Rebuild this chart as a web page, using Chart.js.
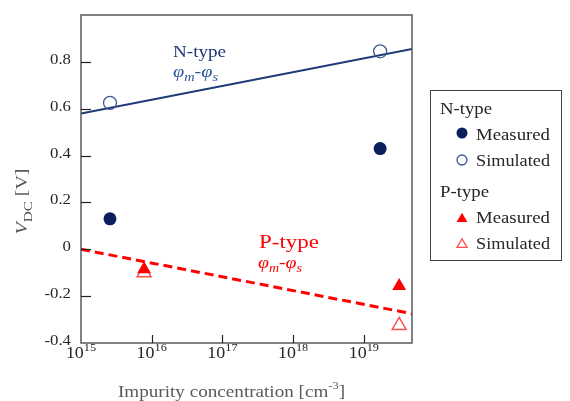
<!DOCTYPE html>
<html><head><meta charset="utf-8">
<script src="https://cdn.jsdelivr.net/npm/chart.js@4/dist/chart.umd.min.js"></script>
<style>html,body{margin:0;padding:0;background:#fff}#wrap{width:570px;height:401px;position:relative}</style>
</head><body><div id="wrap"><canvas id="c" width="570" height="401"></canvas></div>
<script>
// ---- data ----
const nMeasuredX = [2.57e15, 1.7e19];
const nMeasuredY = [0.13, 0.43];
const nSimulatedX = [2.57e15, 1.7e19];
const nSimulatedY = [0.625, 0.845];
const pMeasuredX = [7.8e15, 3.16e19];
const pMeasuredY = [-0.085, -0.157];
const pSimulatedX = [7.8e15, 3.16e19];
const pSimulatedY = [-0.1, -0.325];
const nLineX = [1e15, 4.8e19];
const nLineY = [0.58, 0.855];
const pLineX = [1e15, 4.8e19];
const pLineY = [0.0, -0.275];
const xTickExponents = [15, 16, 17, 18, 19];
const yTickValues = [-0.4, -0.2, 0, 0.2, 0.4, 0.6, 0.8];
const yTickLabels = ['-0.4', '-0.2', '0', '0.2', '0.4', '0.6', '0.8'];

const SERIF = "'Liberation Serif','Times New Roman',serif";
const NAVY = '#0a1f5c';
const NAVY_LINE = '#1f3a78';
const OPEN_BLUE = '#3f5a8f';
const RED = '#ff0000';
const OPEN_RED = '#ff4d4d';
const SX = 1.12; // horizontal text stretch

const pts = (xs, ys) => xs.map((x, i) => ({x, y: ys[i]}));

// draw rich text: parts = [[text, font, dy]]; anchor x by align; optional target width
function rich(ctx, parts, x, y, align, target) {
  let w = 0;
  parts.forEach(p => { ctx.font = p[1] + 'px ' + SERIF; w += ctx.measureText(p[0]).width; });
  const sx = target ? target / w : SX;
  const W = w * sx;
  let x0 = align === 'center' ? x - W / 2 : align === 'right' ? x - W : x;
  ctx.save();
  ctx.translate(x0, y); ctx.scale(sx, 1);
  ctx.textAlign = 'left'; ctx.textBaseline = 'alphabetic';
  let cx = 0;
  parts.forEach(p => {
    ctx.font = p[1] + 'px ' + SERIF;
    ctx.fillText(p[0], cx, p[2] || 0);
    cx += ctx.measureText(p[0]).width;
  });
  ctx.restore();
}

const overlay = {
  id: 'overlay',
  afterDraw(chart) {
    const ctx = chart.ctx, a = chart.chartArea;
    const xs = chart.scales.x, ys = chart.scales.y;
    ctx.save();
    // frame
    ctx.strokeStyle = '#5a5a5a'; ctx.lineWidth = 1.5;
    ctx.strokeRect(a.left, a.top, a.right - a.left, a.bottom - a.top);
    // inward ticks
    ctx.strokeStyle = '#222'; ctx.lineWidth = 1.2;
    yTickValues.forEach(v => {
      if (v === ys.min) return;
      const y = Math.round(ys.getPixelForValue(v)) + 0.5;
      ctx.beginPath(); ctx.moveTo(a.left, y); ctx.lineTo(a.left + 10, y); ctx.stroke();
    });
    xTickExponents.forEach(e => {
      const v = Math.pow(10, e);
      if (v <= xs.min) return;
      const x = Math.round(xs.getPixelForValue(v)) + 0.5;
      ctx.beginPath(); ctx.moveTo(x, a.bottom); ctx.lineTo(x, a.bottom - 8); ctx.stroke();
    });
    // y tick labels
    ctx.fillStyle = '#262626';
    yTickValues.forEach((v, i) => {
      const y = ys.getPixelForValue(v);
      rich(ctx, [[yTickLabels[i], '15', 0]], a.left - 10, y + 2, 'right');
    });
    // x tick labels 10^n
    xTickExponents.forEach(e => {
      const x = xs.getPixelForValue(Math.pow(10, e));
      rich(ctx, [['10', '16', 0], [String(e), '11', -7]], x, a.bottom + 15, 'center', null);
    });
    // x axis title
    ctx.fillStyle = '#595959';
    rich(ctx, [['Impurity concentration [cm', '17', 0], ['-3', '11', -8], [']', '17', 0]], 118, 397, 'left', 227);
    // y axis title rotated
    ctx.save();
    ctx.translate(27, 201.5); ctx.rotate(-Math.PI / 2);
    rich(ctx, [['V', 'italic 17', 0], ['DC', '13', 5], [' [V]', '17', 0]], 0, 0, 'center', 66);
    ctx.restore();
    // annotations
    const phi = [['φ', 'italic 17', 0], ['m', 'italic 12', 4], ['-', '17', 0], ['φ', 'italic 17', 0], ['s', 'italic 12', 4]];
    ctx.fillStyle = '#1f3a78';
    rich(ctx, [['N-type', '17', 0]], 173, 57, 'left', 53);
    ctx.fillStyle = '#2f5597';
    rich(ctx, phi, 173, 77, 'left', 45);
    ctx.fillStyle = RED;
    rich(ctx, [['P-type', '19', 0]], 259, 248, 'left', 60);
    rich(ctx, phi, 258, 268, 'left', 44);
    // legend
    ctx.strokeStyle = '#404040'; ctx.lineWidth = 1;
    ctx.strokeRect(430.5, 90.5, 131, 170);
    ctx.fillStyle = '#262626';
    rich(ctx, [['N-type', '17', 0]], 440, 114, 'left', 52);
    rich(ctx, [['Measured', '17', 0]], 476, 140, 'left', 74);
    rich(ctx, [['Simulated', '17', 0]], 476, 166, 'left', 74);
    rich(ctx, [['P-type', '17', 0]], 440, 197, 'left', 49);
    rich(ctx, [['Measured', '17', 0]], 476, 223, 'left', 74);
    rich(ctx, [['Simulated', '17', 0]], 476, 249, 'left', 74);
    // legend markers
    ctx.fillStyle = NAVY;
    ctx.beginPath(); ctx.arc(462, 133, 5.5, 0, Math.PI * 2); ctx.fill();
    ctx.strokeStyle = OPEN_BLUE; ctx.lineWidth = 1.3;
    ctx.beginPath(); ctx.arc(462, 160, 5, 0, Math.PI * 2); ctx.stroke();
    function tri(x, y, r) {
      ctx.beginPath();
      ctx.moveTo(x, y - r);
      ctx.lineTo(x + r * 0.866, y + r * 0.5);
      ctx.lineTo(x - r * 0.866, y + r * 0.5);
      ctx.closePath();
    }
    ctx.fillStyle = RED; tri(462, 219, 6.2); ctx.fill();
    ctx.strokeStyle = OPEN_RED; ctx.lineWidth = 1.3; tri(462, 244.5, 5.8); ctx.stroke();
    ctx.restore();
  }
};

new Chart(document.getElementById('c'), {
  type: 'scatter',
  data: {
    datasets: [
      {label: 'N line', data: pts(nLineX, nLineY), showLine: true, borderColor: NAVY_LINE, borderWidth: 2, pointRadius: 0, order: 5},
      {label: 'P line', data: pts(pLineX, pLineY), showLine: true, borderColor: RED, borderWidth: 3, borderDash: [9, 5], pointRadius: 0, order: 5},
      {label: 'N Simulated', data: pts(nSimulatedX, nSimulatedY), pointStyle: 'circle', pointRadius: 6.5, backgroundColor: 'rgba(255,255,255,0)', borderColor: OPEN_BLUE, borderWidth: 1.3, order: 2},
      {label: 'N Measured', data: pts(nMeasuredX, nMeasuredY), pointStyle: 'circle', pointRadius: 6.5, backgroundColor: NAVY, borderColor: NAVY, borderWidth: 0, order: 1},
      {label: 'P Simulated', data: pts(pSimulatedX, pSimulatedY), pointStyle: 'triangle', pointRadius: 8, backgroundColor: 'rgba(255,255,255,0)', borderColor: OPEN_RED, borderWidth: 1.5, order: 2},
      {label: 'P Measured', data: pts(pMeasuredX, pMeasuredY), pointStyle: 'triangle', pointRadius: 8, backgroundColor: RED, borderColor: RED, borderWidth: 0, order: 1}
    ]
  },
  options: {
    responsive: false, animation: false,
    layout: {padding: {left: 0, top: 15, right: 158, bottom: 0}},
    plugins: {legend: {display: false}, tooltip: {enabled: false}},
    scales: {
      x: {
        type: 'logarithmic', min: 1e15, max: 4.8e19,
        afterBuildTicks: s => { s.ticks = xTickExponents.map(e => ({value: Math.pow(10, e)})); },
        afterFit: s => { s.height = 58; },
        grid: {display: false, drawTicks: false},
        border: {display: false},
        ticks: {display: false}
      },
      y: {
        min: -0.4, max: 1.0,
        afterBuildTicks: s => { s.ticks = yTickValues.map(v => ({value: v})); },
        afterFit: s => { s.width = 81; },
        grid: {display: false, drawTicks: false},
        border: {display: false},
        ticks: {display: false}
      }
    }
  },
  plugins: [overlay]
});
</script></body></html>
